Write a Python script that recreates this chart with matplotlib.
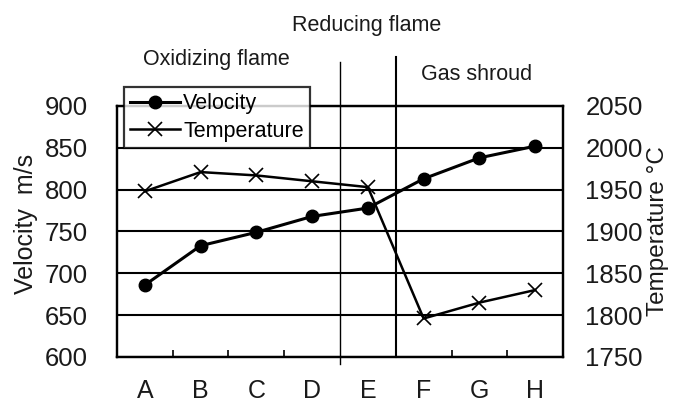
import matplotlib
matplotlib.use("Agg")
import matplotlib.pyplot as plt
from matplotlib.ticker import FixedLocator

plt.rcParams['font.family'] = ['Liberation Sans', 'DejaVu Sans']

categories = ['A', 'B', 'C', 'D', 'E', 'F', 'G', 'H']
velocity = [686, 733, 749, 768, 778, 813, 838, 852]
temperature = [1948, 1971, 1967, 1960, 1953, 1796, 1815, 1830]
vel_ticks = [600, 650, 700, 750, 800, 850, 900]
temp_ticks = [1750, 1800, 1850, 1900, 1950, 2000, 2050]

txt = '#1a1a1a'

fig = plt.figure(figsize=(6.73, 4.07), dpi=100)
ax = fig.add_axes([0.1738, 0.1229, 0.6628, 0.6167])
ax2 = ax.twinx()

x = list(range(len(categories)))
l1, = ax.plot(x, velocity, color='black', lw=2.2, marker='o', ms=9,
              label='Velocity', zorder=5)
l2, = ax2.plot(x, temperature, color='black', lw=1.8, marker='x', ms=10,
               mew=1.2, label='Temperature', zorder=5)

ax.set_xlim(-0.5, 7.5)
ax.set_ylim(600, 900)
ax2.set_ylim(1750, 2050)
ax.set_yticks(vel_ticks)
ax2.set_yticks(temp_ticks)
ax.set_xticks(x)
ax.set_xticklabels(categories)
ax.xaxis.set_minor_locator(FixedLocator([0.5, 1.5, 2.5, 5.5, 6.5]))
ax.tick_params(axis='x', which='major', length=0, pad=16, labelsize=18, colors=txt)
ax.tick_params(axis='x', which='minor', direction='in', length=5, width=1.2)
ax.tick_params(axis='y', length=0, pad=21, labelsize=18.5, colors=txt)
ax2.tick_params(axis='y', length=0, pad=16, labelsize=18.5, colors=txt)

ax.grid(axis='y', color='black', lw=1.5)
for sp in list(ax.spines.values()) + list(ax2.spines.values()):
    sp.set_linewidth(1.6)

# region separators
ax.axvline(3.5, ymin=-0.028, ymax=1.175, color='black', lw=1.0, clip_on=False)
ax.axvline(4.5, ymin=0.0, ymax=1.195, color='black', lw=1.5, clip_on=False)

ax.set_ylabel('Velocity  m/s', fontsize=18, color=txt)
ax2.set_ylabel('Temperature \u00b0C', fontsize=17.5, color=txt)
ax.yaxis.set_label_coords((26 - 117) / 446, 0.53)
ax2.yaxis.set_label_coords((658 - 117) / 446, 0.5)
ax.yaxis.label.set_va('center')
ax2.yaxis.label.set_va('center')

fig.text(367 / 673, 1 - 26 / 407, 'Reducing flame', ha='center', va='center',
         fontsize=15.5, color=txt)
fig.text(216 / 673, 1 - 59 / 407, 'Oxidizing flame', ha='center', va='center',
         fontsize=15.5, color=txt)
fig.text(477 / 673, 1 - 74 / 407, 'Gas shroud', ha='center', va='center',
         fontsize=15.5, color=txt)

leg = ax2.legend([l1, l2], ['Velocity', 'Temperature'], loc='upper left',
                 bbox_to_anchor=(124 / 673, 1 - 87 / 407),
                 bbox_transform=fig.transFigure, prop={'size': 15.5},
                 frameon=True, fancybox=False, borderpad=0.3,
                 handlelength=2.3, handletextpad=0.15, labelspacing=0.3,
                 borderaxespad=0)
leg.get_frame().set_edgecolor('black')
leg.get_frame().set_linewidth(1.6)
leg.set_zorder(10)

fig.savefig('out.png', dpi=100)
